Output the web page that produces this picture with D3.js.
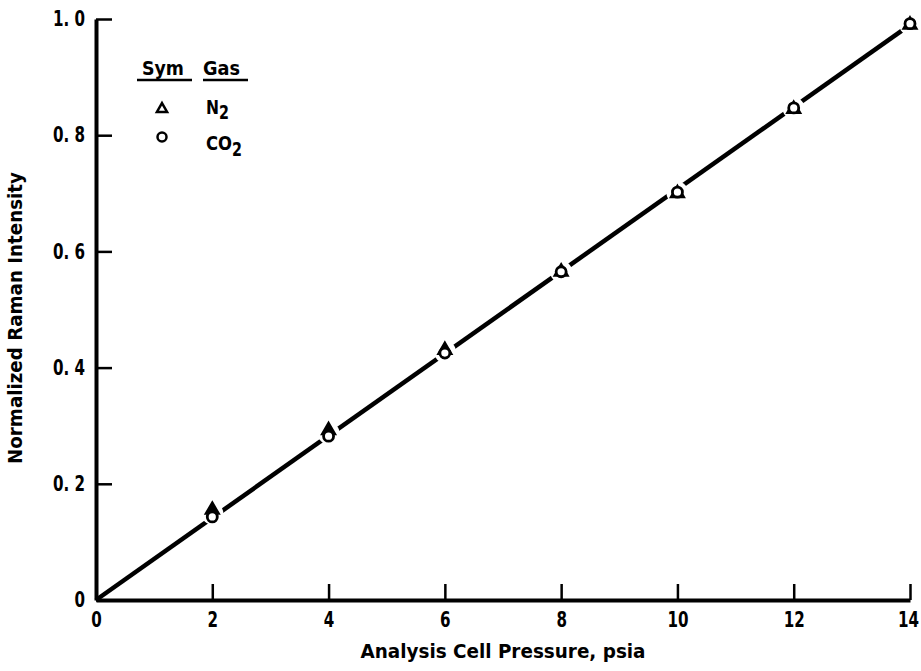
<!DOCTYPE html>
<html>
<head>
<meta charset="utf-8">
<script src="https://cdn.jsdelivr.net/npm/d3@7"></script>
<style>
  html, body { margin: 0; padding: 0; background: #fff; }
  svg { display: block; }
  text { font-family: "DejaVu Sans Condensed", "DejaVu Sans", sans-serif; font-weight: bold; fill: #000; }
</style>
</head>
<body>
<svg id="chart" width="921" height="671"></svg>
<script>
// Pressure settings (psia) and measured normalized intensities
const pressures = [2, 4, 6, 8, 10, 12, 14];
const n2Values  = [0.155, 0.292, 0.430, 0.565, 0.700, 0.845, 0.990];
const co2Values = [0.143, 0.282, 0.425, 0.565, 0.702, 0.847, 0.992];

// Fitted line through the origin
const fitX = [0, 14];
const fitY = [0, 0.990];

const xTicks = [0, 2, 4, 6, 8, 10, 12, 14];
const yTicks = [0, 0.2, 0.4, 0.6, 0.8, 1.0];
const yTickLabels = ["0", "0. 2", "0. 4", "0. 6", "0. 8", "1. 0"];

const svg = d3.select("#chart");
const x = d3.scaleLinear().domain([0, 14]).range([96, 910]);
const y = d3.scaleLinear().domain([0, 1]).range([600, 19]);

// Squeeze text horizontally for a narrow typewriter-like look
function condense(sel, k) {
  sel.each(function () {
    const w = this.getComputedTextLength();
    d3.select(this).attr("textLength", w * k).attr("lengthAdjust", "spacingAndGlyphs");
  });
}

// Fit line
svg.append("path")
  .datum(fitX.map((v, i) => [v, fitY[i]]))
  .attr("d", d3.line().x(d => x(d[0])).y(d => y(d[1])))
  .attr("fill", "none").attr("stroke", "#000").attr("stroke-width", 4.5);

// White knockouts so the line breaks around each data marker
svg.append("g").selectAll("circle")
  .data(pressures.map((p, i) => [p, (n2Values[i] + co2Values[i]) / 2]))
  .join("circle")
  .attr("cx", d => x(d[0])).attr("cy", d => y(d[1]))
  .attr("r", 11).attr("fill", "#fff");

// N2 triangles
const tri = d3.symbol().type(d3.symbolTriangle).size(75);
svg.append("g").selectAll("path")
  .data(pressures.map((p, i) => [p, n2Values[i]]))
  .join("path")
  .attr("d", tri)
  .attr("transform", d => `translate(${x(d[0])},${y(d[1])})`)
  .attr("fill", "#000").attr("stroke", "#000").attr("stroke-width", 2.2);

// CO2 circles
svg.append("g").selectAll("circle")
  .data(pressures.map((p, i) => [p, co2Values[i]]))
  .join("circle")
  .attr("cx", d => x(d[0])).attr("cy", d => y(d[1]))
  .attr("r", 5).attr("fill", "#fff").attr("stroke", "#000").attr("stroke-width", 2.8);

// Axes with inward ticks
const xAxis = d3.axisBottom(x).tickValues(xTicks).tickFormat(d3.format("d"))
  .tickSizeInner(-16).tickSizeOuter(0).tickPadding(12);
const gx = svg.append("g").attr("transform", `translate(0,${y(0)})`).call(xAxis);
gx.select(".domain").attr("stroke-width", 4);
gx.selectAll(".tick line").attr("stroke-width", 2.5);
gx.selectAll(".tick text").attr("font-size", 21).attr("font-family", null).call(condense, 0.8);
// keep the last label inside the page edge
gx.selectAll(".tick text").filter(d => d === 14).attr("dx", -2);

const yAxis = d3.axisLeft(y).tickValues(yTicks).tickFormat((d, i) => yTickLabels[i])
  .tickSizeInner(-16).tickSizeOuter(0).tickPadding(11);
const gy = svg.append("g").attr("transform", `translate(${x(0)},0)`).call(yAxis);
gy.select(".domain").attr("stroke-width", 4);
gy.selectAll(".tick line").attr("stroke-width", 2.5);
gy.selectAll(".tick text").attr("font-size", 21).attr("font-family", null).call(condense, 0.8);

// Axis titles
svg.append("text").attr("x", 503).attr("y", 658).attr("text-anchor", "middle")
  .attr("font-size", 19).attr("textLength", 285).attr("lengthAdjust", "spacingAndGlyphs")
  .text("Analysis Cell Pressure, psia");
svg.append("text").attr("transform", "translate(22,318) rotate(-90)")
  .attr("text-anchor", "middle").attr("font-size", 19)
  .attr("textLength", 292).attr("lengthAdjust", "spacingAndGlyphs")
  .text("Normalized Raman Intensity");

// Legend
const lg = svg.append("g");
lg.append("text").attr("x", 142).attr("y", 75).attr("font-size", 20)
  .attr("textLength", 42).attr("lengthAdjust", "spacingAndGlyphs").text("Sym");
lg.append("text").attr("x", 203).attr("y", 75).attr("font-size", 20)
  .attr("textLength", 37).attr("lengthAdjust", "spacingAndGlyphs").text("Gas");
lg.append("line").attr("x1", 137).attr("x2", 192).attr("y1", 80).attr("y2", 80).attr("stroke", "#000").attr("stroke-width", 2.5);
lg.append("line").attr("x1", 203).attr("x2", 248).attr("y1", 80).attr("y2", 80).attr("stroke", "#000").attr("stroke-width", 2.5);
lg.append("path").attr("d", d3.symbol().type(d3.symbolTriangle).size(45))
  .attr("transform", "translate(162,109)").attr("fill", "#fff").attr("stroke", "#000").attr("stroke-width", 2.5);
lg.append("circle").attr("cx", 162).attr("cy", 137).attr("r", 4.5)
  .attr("fill", "#fff").attr("stroke", "#000").attr("stroke-width", 2.5);
const t1 = lg.append("text").attr("x", 206).attr("y", 114).attr("font-size", 19);
t1.append("tspan").attr("textLength", 13).attr("lengthAdjust", "spacingAndGlyphs").text("N");
t1.append("tspan").attr("dy", 5).attr("textLength", 10).attr("lengthAdjust", "spacingAndGlyphs").text("2");
const t2 = lg.append("text").attr("x", 206).attr("y", 150).attr("font-size", 19);
t2.append("tspan").attr("textLength", 26).attr("lengthAdjust", "spacingAndGlyphs").text("CO");
t2.append("tspan").attr("dy", 6).attr("textLength", 10).attr("lengthAdjust", "spacingAndGlyphs").text("2");
</script>
</body>
</html>
